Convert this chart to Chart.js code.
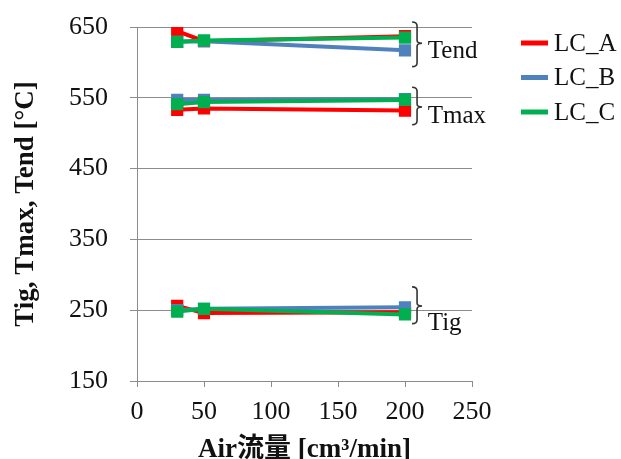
<!DOCTYPE html>
<html>
<head>
<meta charset="utf-8">
<script src="https://cdn.jsdelivr.net/npm/chart.js@4.4.1/dist/chart.umd.min.js"></script>
<style>
  html, body { margin: 0; padding: 0; background: #fff; }
  #wrap { width: 621px; height: 459px; }
</style>
</head>
<body>
<div id="wrap"><canvas id="c" width="621" height="459"></canvas></div>
<script>
// Air flow rate [cm3/min]
const flow = [30, 50, 200];

// LC_A
const aTig  = [256, 246, 247];
const aTmax = [533, 535, 532];
const aTend = [644, 630, 637];
// LC_B
const bTig  = [250, 252, 254];
const bTmax = [547, 547, 548];
const bTend = [629, 630, 617];
// LC_C
const cTig  = [248, 252, 244];
const cTmax = [541, 544, 547];
const cTend = [629, 631, 635];

const seriesNames = ['LC_A', 'LC_B', 'LC_C'];
const seriesColors = ['#FF0000', '#4F81BD', '#00B050'];
const yTicks = [150, 250, 350, 450, 550, 650];
const xTicks = [0, 50, 100, 150, 200, 250];

// bracket labels, in data units
const groups = [
  { label: 'Tend', top: 657, bottom: 594, tip: 627, textY: 615 },
  { label: 'Tmax', top: 565, bottom: 512, tip: 537, textY: 524 },
  { label: 'Tig',  top: 283, bottom: 231, tip: 256, textY: 232 }
];

const serif = '"Liberation Serif", "Times New Roman", serif';

function pts(arr) {
  return flow.map((x, i) => ({ x: x, y: arr[i] }));
}

const all = [[aTig, aTmax, aTend], [bTig, bTmax, bTend], [cTig, cTmax, cTend]];
const datasets = [];
all.forEach((group, s) => {
  group.forEach((arr) => {
    datasets.push({
      label: seriesNames[s],
      data: pts(arr),
      borderColor: seriesColors[s],
      backgroundColor: seriesColors[s],
      borderWidth: 4,
      pointStyle: 'rect',
      pointRadius: 5.8,
      pointHoverRadius: 5.8,
      order: 3 - s,
      tension: 0
    });
  });
});

const extras = {
  id: 'extras',
  afterDatasetsDraw(chart) {
    const ctx = chart.ctx;
    const xs = chart.scales.x, ys = chart.scales.y;
    ctx.save();
    // brackets
    const bx = xs.getPixelForValue(209);
    groups.forEach(g => {
      const t = ys.getPixelForValue(g.top);
      const b = ys.getPixelForValue(g.bottom);
      const m = ys.getPixelForValue(g.tip);
      ctx.strokeStyle = '#333';
      ctx.lineWidth = 1.6;
      ctx.beginPath();
      ctx.moveTo(bx - 5, t);
      ctx.quadraticCurveTo(bx, t, bx, t + 4);
      ctx.lineTo(bx, m - 3);
      ctx.quadraticCurveTo(bx, m, bx + 5, m);
      ctx.quadraticCurveTo(bx, m, bx, m + 3);
      ctx.lineTo(bx, b - 4);
      ctx.quadraticCurveTo(bx, b, bx - 5, b);
      ctx.stroke();
      ctx.fillStyle = '#111';
      ctx.font = '25px ' + serif;
      ctx.textAlign = 'left';
      ctx.textBaseline = 'middle';
      ctx.fillText(g.label, xs.getPixelForValue(217), ys.getPixelForValue(g.textY));
    });
    // legend
    const lx = chart.chartArea.right + 49;
    seriesNames.forEach((n, i) => {
      const ly = 43 + i * 34.5;
      ctx.strokeStyle = seriesColors[i];
      ctx.lineWidth = 5;
      ctx.beginPath();
      ctx.moveTo(lx, ly);
      ctx.lineTo(lx + 27, ly);
      ctx.stroke();
      ctx.fillStyle = '#111';
      ctx.font = '25px ' + serif;
      ctx.textAlign = 'left';
      ctx.textBaseline = 'middle';
      ctx.fillText(n, lx + 33, ly + 1);
    });
    ctx.restore();
  }
};

new Chart(document.getElementById('c'), {
  type: 'line',
  data: { datasets: datasets },
  options: {
    responsive: false,
    animation: false,
    events: [],
    layout: { padding: { left: 0, top: 27, right: 149, bottom: 0 } },
    plugins: {
      legend: { display: false },
      tooltip: { enabled: false }
    },
    scales: {
      x: {
        type: 'linear',
        min: 0, max: 250,
        afterBuildTicks: s => { s.ticks = xTicks.map(v => ({ value: v })); },
        afterFit: s => { s.height = 78; },
        border: { color: '#8c8c8c', width: 1 },
        grid: { drawOnChartArea: false, color: '#8c8c8c', tickLength: 6 },
        ticks: { color: '#111', padding: 10, maxRotation: 0, font: { family: serif, size: 26 } },
        title: {
          display: true,
          text: 'Air流量 [cm³/min]',
          color: '#111',
          padding: { top: 0, bottom: -7 },
          font: { family: '"Liberation Serif", "Noto Sans CJK JP", serif', size: 27, weight: 'bold' }
        }
      },
      y: {
        min: 150, max: 650,
        afterBuildTicks: s => { s.ticks = yTicks.map(v => ({ value: v })); },
        afterFit: s => { s.width = 137; s.paddingTop = 14; s.paddingBottom = 14; },
        border: { color: '#8c8c8c', width: 1 },
        grid: { color: '#8c8c8c', tickLength: 7 },
        ticks: { color: '#111', padding: 22, font: { family: serif, size: 26 } },
        title: {
          display: true,
          text: 'Tig, Tmax, Tend [°C]',
          color: '#111',
          padding: { top: 10, bottom: 0 },
          font: { family: serif, size: 27, weight: 'bold' }
        }
      }
    }
  },
  plugins: [extras]
});
</script>
</body>
</html>
